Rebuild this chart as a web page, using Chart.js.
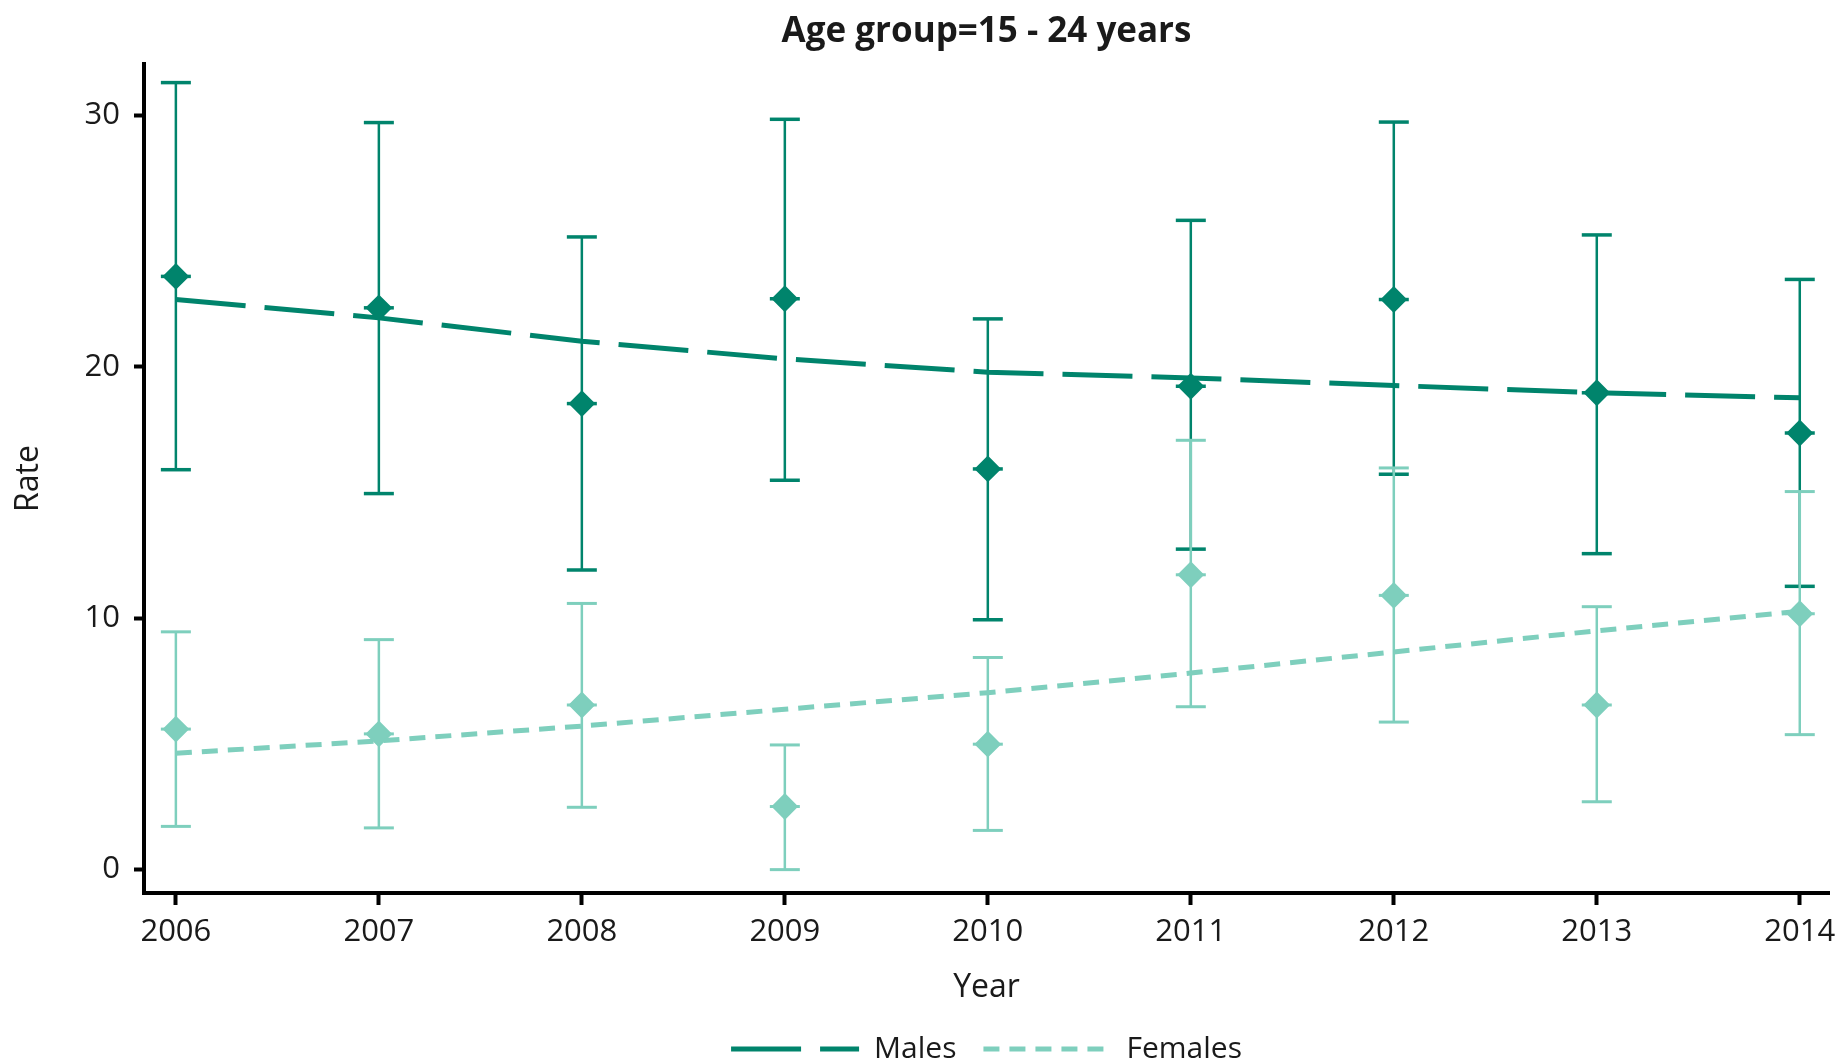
<!DOCTYPE html>
<html>
<head>
<meta charset="utf-8">
<title>Age group=15 - 24 years</title>
<script src="https://cdn.jsdelivr.net/npm/chart.js@4.4.1/dist/chart.umd.min.js"></script>
<style>
  html, body { margin: 0; padding: 0; background: #fff; }
  #wrap { width: 1838px; height: 1061px; }
</style>
</head>
<body>
<div id="wrap"><canvas id="rateChart" width="1838" height="1061"></canvas></div>
<script>
// Data
const years = [2006, 2007, 2008, 2009, 2010, 2011, 2012, 2013, 2014];
const rateTicks = [0, 10, 20, 30];

const maleRate  = [23.6, 22.35, 18.54, 22.71, 15.94, 19.23, 22.68, 18.97, 17.37];
const maleUpper = [31.31, 29.72, 25.17, 29.85, 21.91, 25.83, 29.74, 25.25, 23.48];
const maleLower = [15.91, 14.96, 11.92, 15.49, 9.94, 12.75, 15.73, 12.57, 11.27];
const maleTrend = [22.68, 21.95, 21.02, 20.32, 19.79, 19.56, 19.26, 18.97, 18.77];

const femaleRate  = [5.59, 5.40, 6.55, 2.51, 4.99, 11.73, 10.91, 6.55, 10.18];
const femaleUpper = [9.46, 9.15, 10.59, 4.96, 8.44, 17.08, 15.98, 10.46, 15.04];
const femaleLower = [1.72, 1.66, 2.48, 0.0, 1.56, 6.48, 5.87, 2.70, 5.37];
const femaleTrend = [4.63, 5.12, 5.71, 6.38, 7.04, 7.82, 8.66, 9.50, 10.28];

const maleColor = '#00846c';
const femaleColor = '#7ecfbd';
const textColor = '#1a1a1a';
const fontFamily = '"Open Sans", "Noto Sans", sans-serif';

function toPoints(values) {
  return years.map((yr, i) => ({ x: yr, y: values[i] }));
}

// draws the confidence interval whiskers with the chart's own scales
const errorBars = {
  id: 'errorBars',
  beforeDatasetsDraw(chart) {
    const { ctx, scales: { x, y } } = chart;
    const groups = [
      { lower: maleLower, upper: maleUpper, mid: maleRate, color: maleColor, line: 2.5, cap: 3.5 },
      { lower: femaleLower, upper: femaleUpper, mid: femaleRate, color: femaleColor, line: 2.5, cap: 3 }
    ];
    ctx.save();
    groups.forEach(g => {
      ctx.strokeStyle = g.color;
      years.forEach((yr, i) => {
        const px = x.getPixelForValue(yr);
        const top = y.getPixelForValue(g.upper[i]);
        const bottom = y.getPixelForValue(g.lower[i]);
        const mid = y.getPixelForValue(g.mid[i]);
        ctx.lineWidth = g.line;
        ctx.beginPath();
        ctx.moveTo(px, top);
        ctx.lineTo(px, bottom);
        ctx.stroke();
        ctx.lineWidth = g.cap;
        [top, bottom, mid].forEach(py => {
          ctx.beginPath();
          ctx.moveTo(px - 15, py);
          ctx.lineTo(px + 15, py);
          ctx.stroke();
        });
      });
    });
    ctx.restore();
  }
};

const ctx = document.getElementById('rateChart').getContext('2d');
const rateChart = new Chart(ctx, {
  type: 'line',
  data: {
    datasets: [
      {
        label: 'Males',
        data: toPoints(maleTrend),
        borderColor: maleColor,
        borderWidth: 5,
        borderDash: [70, 19],
        pointRadius: 0,
        tension: 0,
        order: 2
      },
      {
        label: 'Females',
        data: toPoints(femaleTrend),
        borderColor: femaleColor,
        borderWidth: 5,
        borderDash: [16, 10],
        pointRadius: 0,
        tension: 0,
        order: 2
      },
      {
        label: 'Males rate',
        data: toPoints(maleRate),
        showLine: false,
        pointStyle: 'rectRot',
        pointRadius: 12,
        pointBorderWidth: 2,
        pointBackgroundColor: maleColor,
        pointBorderColor: maleColor,
        order: 1
      },
      {
        label: 'Females rate',
        data: toPoints(femaleRate),
        showLine: false,
        pointStyle: 'rectRot',
        pointRadius: 12,
        pointBorderWidth: 2,
        pointBackgroundColor: femaleColor,
        pointBorderColor: femaleColor,
        order: 1
      }
    ]
  },
  options: {
    responsive: false,
    animation: false,
    layout: { autoPadding: false, padding: { left: 0, right: 9, top: 0, bottom: -13 } },
    plugins: {
      title: {
        display: true,
        text: 'Age group=15 - 24 years',
        fullSize: false,
        color: textColor,
        font: { family: fontFamily, size: 35, weight: 'bold' },
        padding: { top: 11, bottom: 11 }
      },
      legend: {
        position: 'bottom',
        fullSize: false,
        labels: {
          usePointStyle: true,
          pointStyleWidth: 128,
          padding: 27,
          color: textColor,
          font: { family: fontFamily, size: 30 },
          generateLabels: chart => chart.data.datasets.slice(0, 2).map((ds, i) => ({
            text: ds.label,
            strokeStyle: ds.borderColor,
            fillStyle: ds.borderColor,
            lineWidth: 5,
            lineDash: ds.borderDash,
            pointStyle: 'line',
            fontColor: textColor,
            hidden: false,
            datasetIndex: i
          }))
        }
      },
      tooltip: { enabled: false }
    },
    scales: {
      x: {
        type: 'linear',
        min: 2005.843,
        max: 2014.144,
        afterBuildTicks: scale => { scale.ticks = years.map(v => ({ value: v })); },
        afterFit: scale => {
          scale.paddingLeft = 0;
          scale.paddingRight = 0;
          scale.height = 114;
        },
        ticks: {
          color: textColor,
          padding: 9,
          font: { family: fontFamily, size: 31 },
          maxRotation: 0,
          callback: v => String(v)
        },
        grid: { drawOnChartArea: false, tickLength: 12, tickWidth: 4, tickColor: '#000' },
        border: { display: true, color: '#000', width: 4 },
        title: {
          display: true,
          text: 'Year',
          color: textColor,
          font: { family: fontFamily, size: 32 },
          padding: { top: 9, bottom: 0 }
        }
      },
      y: {
        min: -0.93,
        max: 32.05,
        afterBuildTicks: scale => { scale.ticks = rateTicks.map(v => ({ value: v })); },
        afterFit: scale => { scale.width = 144; },
        ticks: {
          color: textColor,
          padding: 14,
          font: { family: fontFamily, size: 31 }
        },
        grid: { drawOnChartArea: false, tickLength: 10, tickWidth: 4, tickColor: '#000' },
        border: { display: true, color: '#000', width: 4 },
        title: {
          display: true,
          text: 'Rate',
          color: textColor,
          font: { family: fontFamily, size: 32 },
          padding: { top: 10, bottom: 0 }
        }
      }
    }
  },
  plugins: [errorBars]
});
</script>
</body>
</html>
